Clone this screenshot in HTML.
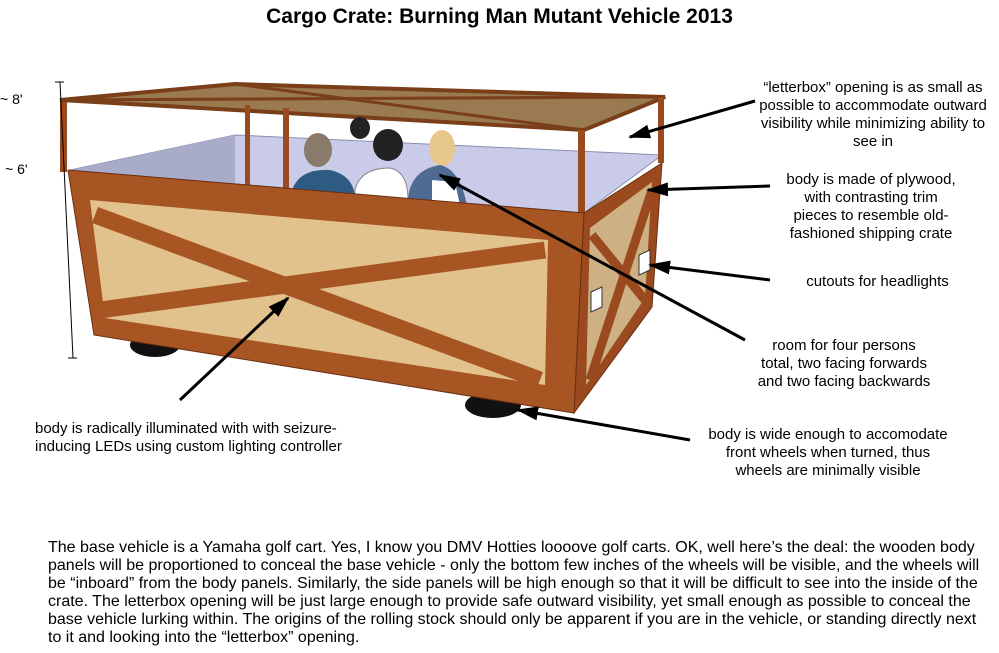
<!DOCTYPE html>
<html><head><style>
body{margin:0;width:999px;height:653px;background:#fff;font-family:"Liberation Sans",Arial,sans-serif;position:relative;overflow:hidden}
.t{position:absolute;font-size:15px;line-height:18px;color:#000;text-align:center;white-space:nowrap}
</style></head><body>
<div style="position:absolute;left:0;width:999px;top:5px;text-align:center;font-size:21px;font-weight:bold">Cargo Crate: Burning Man Mutant Vehicle 2013</div>
<svg width="999" height="653" style="position:absolute;left:0;top:0">
<defs>
<marker id="b" markerWidth="22" markerHeight="14" refX="20" refY="7" orient="auto" markerUnits="userSpaceOnUse"><path d="M0,0 L22,7 L0,14z" fill="#000"/></marker>
</defs>
<ellipse cx="155" cy="345" rx="25" ry="12" fill="#111"/>
<ellipse cx="493" cy="405" rx="28" ry="13" fill="#111"/>
<polygon points="70,170 235,135 662,155 584,213" fill="#c9cbe9" stroke="#8a8fb0"/>
<polygon points="235,135 235,185 70,170" fill="#a9acc9"/>
<polygon points="60,100 235,84 665,97 584,130" fill="#9a7a50" stroke="#7a3e18" stroke-width="4"/>
<line x1="60" y1="100" x2="665" y2="97" stroke="#7a3e18" stroke-width="3"/>
<line x1="235" y1="84" x2="584" y2="130" stroke="#7a3e18" stroke-width="3"/>
<ellipse cx="318" cy="150" rx="14" ry="17" fill="#8a7a6a"/>
<path d="M292,190 Q300,168 330,170 Q352,175 355,195 L355,205 L292,202z" fill="#2d5b82"/>
<ellipse cx="360" cy="128" rx="10" ry="11" fill="#222"/>
<ellipse cx="388" cy="145" rx="15" ry="16" fill="#222"/>
<path d="M355,190 Q360,168 390,168 Q408,172 408,200 L408,210 L355,205z" fill="#fff" stroke="#888"/>
<ellipse cx="442" cy="148" rx="13" ry="18" fill="#e8c88a"/>
<path d="M408,200 Q410,170 440,165 Q462,170 468,212 L410,210z" fill="#4f6b93"/>
<path d="M432,180 L455,182 L462,215 L432,213z" fill="#fff"/>
<rect x="60" y="102" width="7" height="70" fill="#9a4a1e"/>
<rect x="245" y="105" width="5" height="81" fill="#9a4a1e"/>
<rect x="283" y="108" width="6" height="82" fill="#9a4a1e"/>
<rect x="578" y="130" width="7" height="85" fill="#9a4a1e"/>
<rect x="658" y="97" width="6" height="66" fill="#9a4a1e"/>
<polygon points="68,170 584,213 574,413 94,335" fill="#a85524" stroke="#6b2e10"/>
<polygon points="90,200 548,240 545,385 105,318" fill="#e2c28c"/>
<g stroke="#a85524" stroke-width="17">
<line x1="95" y1="215" x2="540" y2="380"/>
<line x1="100" y1="310" x2="545" y2="250"/>
</g>
<polygon points="584,213 662,163 652,307 574,413" fill="#9a4a1e" stroke="#6b2e10"/>
<polygon points="590,228 652,182 645,298 586,385" fill="#cdb083"/>
<g stroke="#9a4a1e" stroke-width="9">
<line x1="592" y1="235" x2="645" y2="300"/>
<line x1="590" y1="380" x2="652" y2="190"/>
</g>
<polygon points="639,255 650,250 650,270 639,275" fill="#fff" stroke="#333"/>
<polygon points="591,292 602,287 602,307 591,312" fill="#fff" stroke="#333"/>
<line x1="60" y1="82" x2="73" y2="358" stroke="#000"/>
<line x1="55" y1="82" x2="64" y2="82" stroke="#000"/>
<line x1="68" y1="358" x2="77" y2="358" stroke="#000"/>
<text x="0" y="104" font-size="14" font-family="Liberation Sans">~ 8'</text>
<text x="5" y="174" font-size="14" font-family="Liberation Sans">~ 6'</text>
<g stroke="#000" stroke-width="3" fill="none">
<line x1="755" y1="101" x2="630" y2="137" marker-end="url(#b)"/>
<line x1="770" y1="186" x2="648" y2="190" marker-end="url(#b)"/>
<line x1="770" y1="280" x2="650" y2="265" marker-end="url(#b)"/>
<line x1="745" y1="340" x2="440" y2="175" marker-end="url(#b)"/>
<line x1="180" y1="400" x2="288" y2="298" marker-end="url(#b)"/>
<line x1="690" y1="440" x2="518" y2="410" marker-end="url(#b)"/>
</g>
</svg>
<div class="t" style="left:748px;top:79px;width:250px">“letterbox” opening is as small as<br>possible to accommodate outward<br>visibility while minimizing ability to<br>see in</div>
<div class="t" style="left:771px;top:171px;width:200px">body is made of plywood,<br>with contrasting trim<br>pieces to resemble old-<br>fashioned shipping crate</div>
<div class="t" style="left:780px;top:273px;width:195px">cutouts for headlights</div>
<div class="t" style="left:744px;top:337px;width:200px">room for four persons<br>total, two facing forwards<br>and two facing backwards</div>
<div class="t" style="left:688px;top:426px;width:280px">body is wide enough to accomodate<br>front wheels when turned, thus<br>wheels are minimally visible</div>
<div class="t" style="left:35px;top:420px;width:345px;text-align:left">body is radically illuminated with with seizure-<br>inducing LEDs using custom lighting controller</div>
<div class="t" style="left:48px;top:539px;width:945px;text-align:left;font-size:16px;white-space:normal">The base vehicle is a Yamaha golf cart. Yes, I know you DMV Hotties loooove golf carts. OK, well here’s the deal: the wooden body panels will be proportioned to conceal the base vehicle - only the bottom few inches of the wheels will be visible, and the wheels will be “inboard” from the body panels. Similarly, the side panels will be high enough so that it will be difficult to see into the inside of the crate. The letterbox opening will be just large enough to provide safe outward visibility, yet small enough as possible to conceal the base vehicle lurking within. The origins of the rolling stock should only be apparent if you are in the vehicle, or standing directly next to it and looking into the “letterbox” opening.</div>
</body></html>
